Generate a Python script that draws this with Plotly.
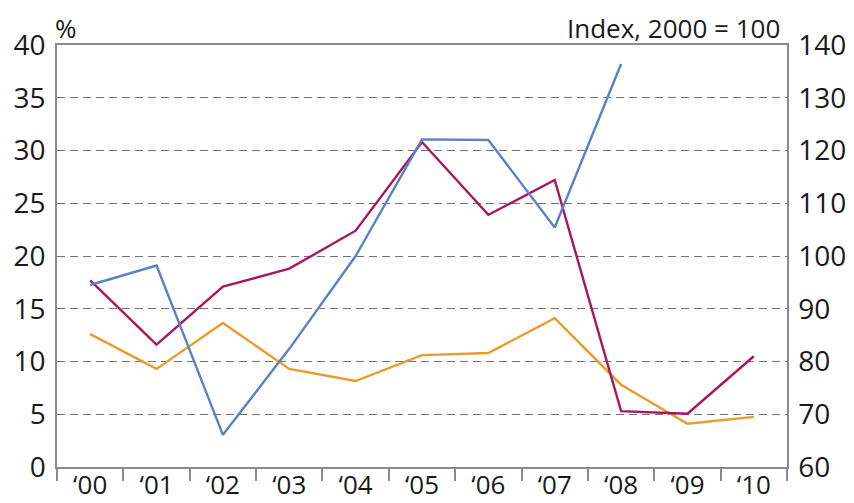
import plotly.graph_objects as go

years = ["‘00", "‘01", "‘02", "‘03", "‘04", "‘05", "‘06", "‘07", "‘08", "‘09", "‘10"]

# Left axis (%) series
magenta_pct = [17.7, 11.6, 17.1, 18.8, 22.4, 30.8, 23.9, 27.2, 5.3, 5.05, 10.5]
orange_pct = [12.6, 9.3, 13.65, 9.3, 8.15, 10.6, 10.8, 14.1, 7.8, 4.1, 4.75]

# Right axis (index, 2000 = 100) series
blue_index = [94.5, 98.2, 66.1, 82.4, 100.0, 122.1, 122.0, 105.4, 136.4, None, None]

font_family = "Open Sans, Noto Sans, DejaVu Sans, sans-serif"
grid_color = "#737373"
axis_color = "#8a8a8a"

fig = go.Figure()
fig.add_trace(go.Scatter(x=years, y=orange_pct, mode="lines",
                         line=dict(color="#e89c2a", width=2.4), yaxis="y"))
fig.add_trace(go.Scatter(x=years, y=blue_index, mode="lines",
                         line=dict(color="#5b80c8", width=2.4), yaxis="y2"))
fig.add_trace(go.Scatter(x=years, y=magenta_pct, mode="lines",
                         line=dict(color="#a8175e", width=2.4), yaxis="y"))

# page body has an 8px default margin, so the figure is shrunk by 8px
fig.update_layout(
    width=846, height=495,
    margin=dict(l=49, r=67, t=37, b=36, autoexpand=False),
    paper_bgcolor="white", plot_bgcolor="white",
    showlegend=False,
    font=dict(family=font_family, size=28, color="#1a1a1a"),
    xaxis=dict(
        type="category", tickson="boundaries", ticks="outside", ticklen=12,
        tickcolor=axis_color, tickwidth=1.5, showgrid=False,
        showline=True, linecolor=axis_color, linewidth=1.5, mirror=True,
        range=[-0.5, 10.5], tickfont=dict(size=26), automargin=False,
        ticklabelstandoff=-6,
    ),
    yaxis=dict(
        range=[0, 40], dtick=5, showgrid=True, gridcolor=grid_color,
        griddash="8px,5px", gridwidth=1.4, zeroline=False,
        showline=True, linecolor=axis_color, linewidth=1.5,
        ticks="", tickfont=dict(size=28), automargin=False,
        ticklabelstandoff=4,
    ),
    yaxis2=dict(
        range=[60, 140], dtick=10, overlaying="y", side="right",
        showgrid=False, zeroline=False,
        showline=True, linecolor=axis_color, linewidth=1.5,
        ticks="", tickfont=dict(size=28), automargin=False,
        ticklabelstandoff=4,
    ),
    annotations=[
        dict(text="%", xref="paper", yref="paper", x=0.0, y=1.0,
             xanchor="left", yanchor="bottom", yshift=-3, xshift=-4,
             showarrow=False, font=dict(size=26)),
        dict(text="Index, 2000 = 100", xref="paper", yref="paper", x=1.0, y=1.0,
             xanchor="right", yanchor="bottom", yshift=-3, xshift=-5,
             showarrow=False, font=dict(size=26)),
    ],
)

fig.write_html("out.html")
